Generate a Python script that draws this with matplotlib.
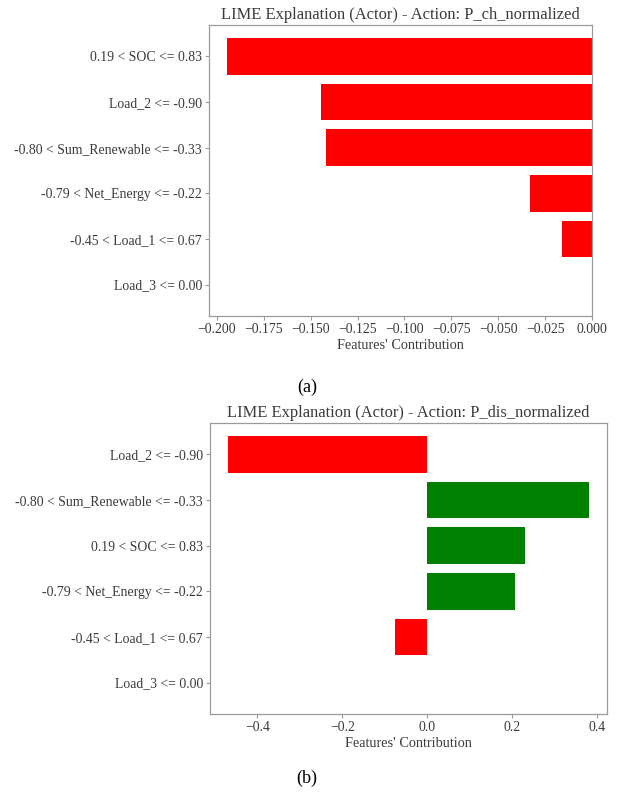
import matplotlib
matplotlib.use("Agg")
import matplotlib.pyplot as plt

plt.rcParams['font.family'] = ['Liberation Serif', 'DejaVu Serif']

# Panel (a): P_ch_normalized (listed top to bottom)
features_a = ["0.19 < SOC <= 0.83", "Load_2 <= -0.90", "-0.80 < Sum_Renewable <= -0.33",
              "-0.79 < Net_Energy <= -0.22", "-0.45 < Load_1 <= 0.67", "Load_3 <= 0.00"]
values_a = [-0.1945, -0.1443, -0.1420, -0.0331, -0.0162, 0.0]
title_a = "LIME Explanation (Actor) - Action: P_ch_normalized"

# Panel (b): P_dis_normalized (listed top to bottom)
features_b = ["Load_2 <= -0.90", "-0.80 < Sum_Renewable <= -0.33", "0.19 < SOC <= 0.83",
              "-0.79 < Net_Energy <= -0.22", "-0.45 < Load_1 <= 0.67", "Load_3 <= 0.00"]
values_b = [-0.469, 0.381, 0.230, 0.208, -0.076, 0.0]
title_b = "LIME Explanation (Actor) - Action: P_dis_normalized"

xlabel = "Features' Contribution"
captions = ["(a)", "(b)"]

fig = plt.figure(figsize=(6.18, 8.0), dpi=100)
ax_a = fig.add_axes([0.3382, 0.605, 0.6197, 0.36375])
ax_b = fig.add_axes([0.3398, 0.1075, 0.6424, 0.36375])

text_col = '#3a3a3a'
spine_col = '#9a9a9a'

def draw(ax, feats, vals, title):
    names = feats[::-1]
    v = vals[::-1]
    pos = list(range(len(v)))
    colors = ['green' if x > 0 else 'red' for x in v]
    ax.barh(pos, v, align='center', color=colors, height=0.8)
    ax.set_yticks(pos)
    ax.set_yticklabels(names)
    ax.set_title(title, fontsize=11.9, color=text_col, pad=4)
    ax.set_xlabel(xlabel, fontsize=10.3, color=text_col, labelpad=2)
    ax.tick_params(axis='both', labelsize=9.9, colors=spine_col, labelcolor=text_col,
                   length=3, width=0.8, pad=2)
    for s in ax.spines.values():
        s.set_color(spine_col)
        s.set_linewidth(0.9)

draw(ax_a, features_a, values_a, title_a)
draw(ax_b, features_b, values_b, title_b)

fig.text(0.4968, 1 - 387 / 800, captions[0], ha='center', va='center', fontsize=13, color='black')
fig.text(0.4968, 1 - 778 / 800, captions[1], ha='center', va='center', fontsize=13, color='black')

fig.savefig("out.png", dpi=100, facecolor='white')
